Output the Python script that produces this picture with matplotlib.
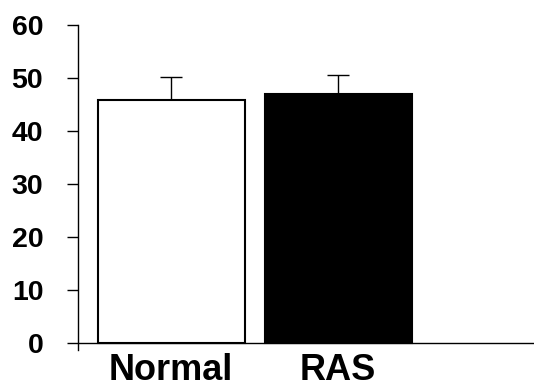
import matplotlib
matplotlib.use('Agg')
import matplotlib.pyplot as plt

# Data
groups = ['Normal', 'RAS']
means = [46.0, 47.0]
errors = [4.2, 3.6]
colors = ['white', 'black']

plt.rcParams['font.family'] = ['Liberation Sans', 'DejaVu Sans']
plt.rcParams['font.weight'] = 'bold'

fig = plt.figure(figsize=(5.34, 3.88), dpi=100)
ax = fig.add_axes([78 / 534, 1 - 350 / 388, 1 - 78 / 534, (350 - 25.3) / 388])

x = range(len(groups))
ax.bar(x, means, width=0.88, color=colors, edgecolor='black', linewidth=1.5, zorder=2)
ax.errorbar(x, means, yerr=[[0] * len(errors), errors], fmt='none',
            ecolor='black', elinewidth=1, capsize=8, capthick=1, zorder=1)

ax.set_xlim(-0.558, 2.172)
ax.set_ylim(-60 * 6.7 / 318, 60)
ax.set_yticks(range(0, 61, 10))
ax.set_xticks(list(x))
ax.set_xticklabels(groups, fontsize=26, fontweight='bold')
ax.tick_params(axis='y', length=8, width=1, direction='out', labelsize=20.5, pad=17)
ax.tick_params(axis='x', length=0, pad=2)
for lab in ax.get_yticklabels():
    lab.set_fontweight('bold')

ax.spines['top'].set_visible(False)
ax.spines['right'].set_visible(False)
ax.spines['bottom'].set_visible(False)
ax.spines['left'].set_linewidth(1)
ax.axhline(0, color='black', linewidth=1, zorder=3)

fig.savefig('out.png', dpi=100)
